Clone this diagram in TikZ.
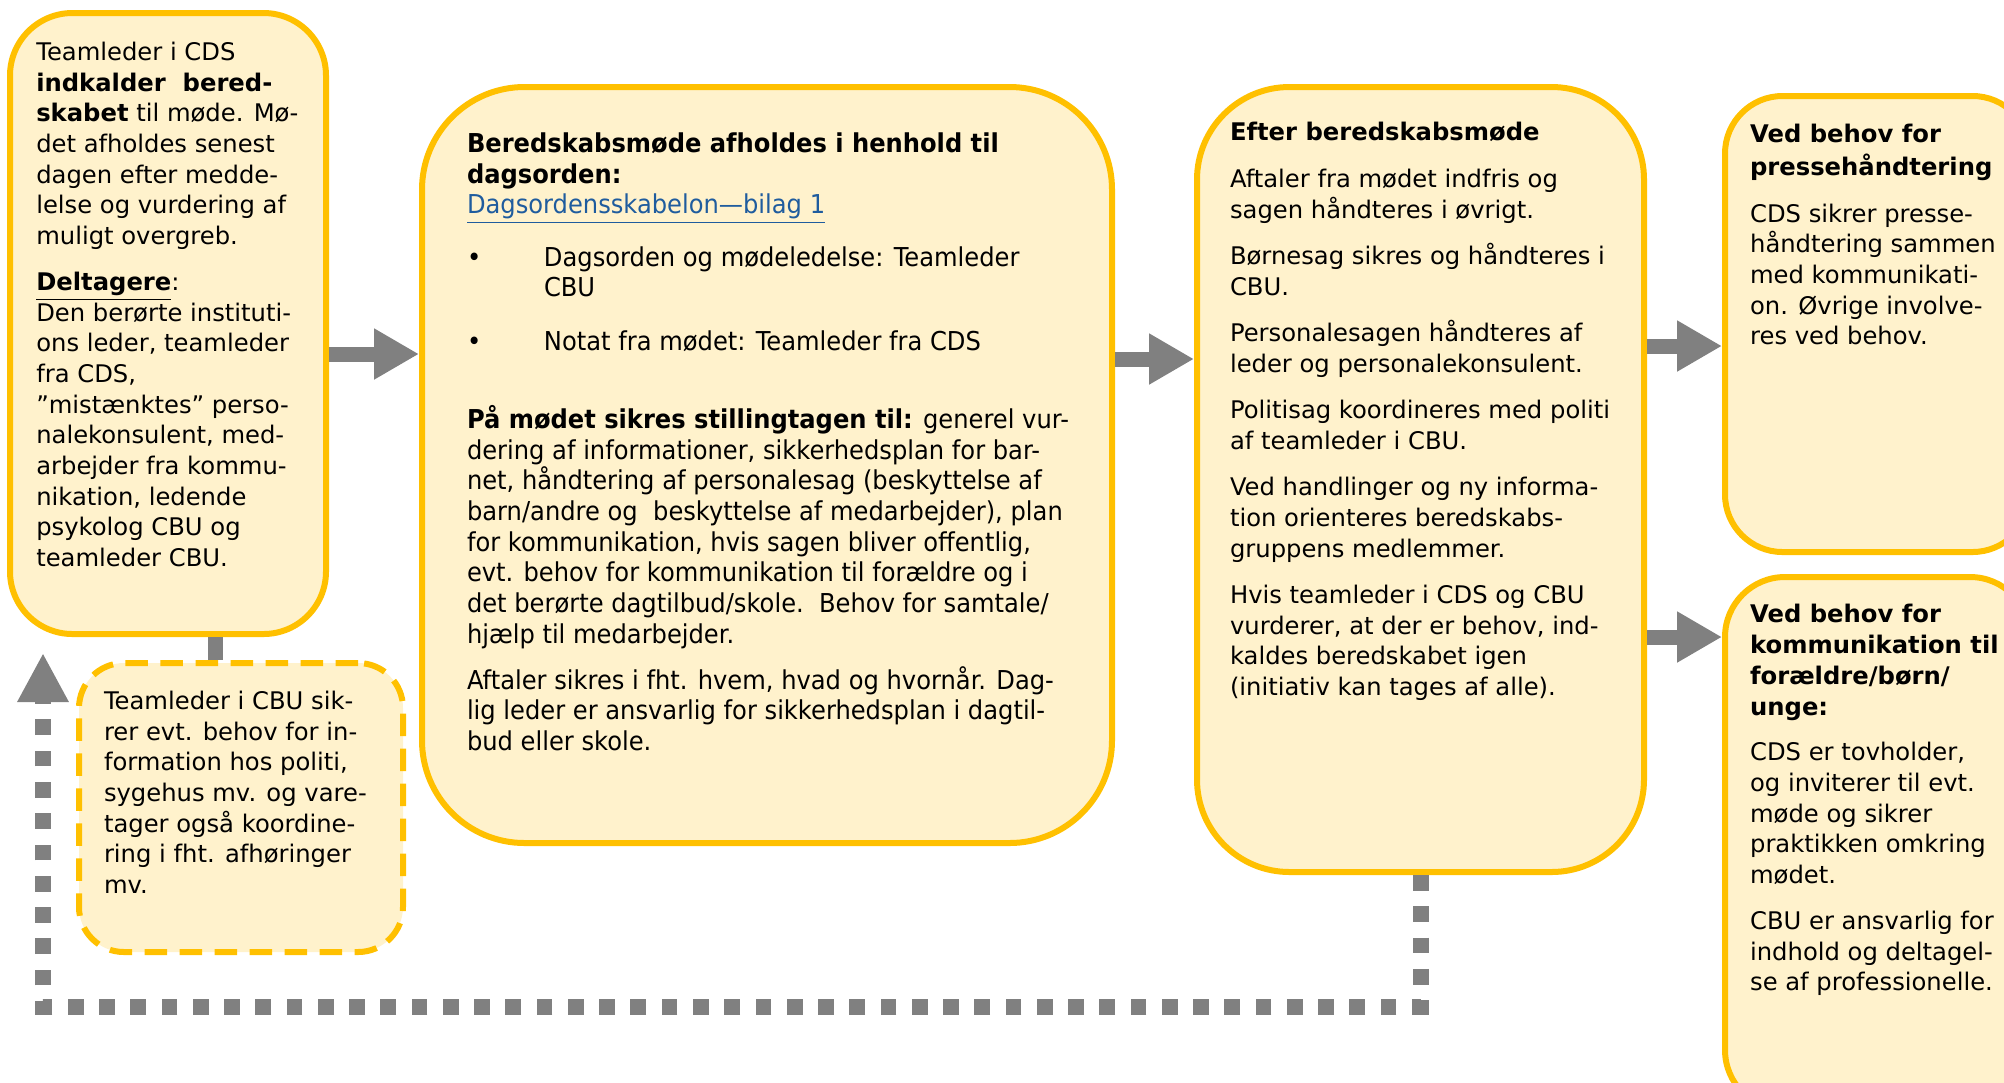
\documentclass[tikz,border=0pt]{standalone}
\usepackage{fontspec}
\setmainfont{DejaVu Sans}
\newfontfamily\condfont{DejaVu Sans}[FakeStretch=0.93]
\usetikzlibrary{arrows.meta,fit}
\definecolor{boxborder}{HTML}{FFC000}
\definecolor{boxfill}{HTML}{FFF2CC}
\definecolor{arrowgray}{HTML}{808080}
\definecolor{linkblue}{HTML}{1F5C9E}
\newcommand\mainsize{\fontsize{9.7pt}{12.27pt}\selectfont}
\newcommand\condsize{\condfont\fontsize{10.4pt}{12.27pt}\selectfont}
\begin{document}
\begin{tikzpicture}[x=0.4pt,y=-0.4pt,
  box/.style={draw=boxborder,fill=boxfill,line width=2.4pt,inner sep=0pt},
  dashbox/.style={box,dash pattern=on 9pt off 5pt},
  txt/.style={anchor=north west,inner sep=0pt,align=left,font=\mainsize},
  blockarrow/.style={draw=arrowgray,line width=6pt,-{Triangle[length=18pt,width=19.2pt]}},
  stub/.style={draw=arrowgray,line width=6pt},
  fbline/.style={draw=arrowgray,line width=6.4pt,dash pattern=on 6.3pt off 6.2pt,-{Triangle[length=19.6pt,width=19.2pt]}}]
\useasboundingbox (0,0) rectangle (2004,1082);
% boxes
\node[box,rounded corners=25pt,fit={(10,13) (326,634)}] (b1) {};
\node[dashbox,rounded corners=18pt,fit={(79,663) (403,952)}] (b2) {};
\node[box,rounded corners=41pt,fit={(422,87) (1112,843)}] (b3) {};
\node[box,rounded corners=37pt,fit={(1197,87) (1644,872)}] (b4) {};
\node[box,rounded corners=23pt,fit={(1725,96) (2030,552)}] (b5) {};
\node[box,rounded corners=24pt,fit={(1725,577) (2030,1110)}] (b6) {};
% texts
\node[txt] (t1) at (35.8,38.5) {\strut Teamleder i CDS\\
\textbf{indkalder\ \ bered-}\\
\textbf{skabet} til møde. Mø-\\
det afholdes senest\\
dagen efter medde-\\
lelse og vurdering af\\
muligt overgreb.\\[6.1pt]
\textbf{\underline{Deltagere}}:\\
Den berørte instituti-\\
ons leder, teamleder\\
fra CDS,\\
”mistænktes” perso-\\
nalekonsulent, med-\\
arbejder fra kommu-\\
nikation, ledende\\
psykolog CBU og\\
teamleder CBU.};
\node[txt] (t2) at (103.5,687.5) {\strut Teamleder i CBU sik-\\
rer evt. behov for in-\\
formation hos politi,\\
sygehus mv. og vare-\\
tager også koordine-\\
ring i fht. afhøringer\\
mv.};
\node[txt,font=\condsize] (t3) at (466.5,130.5) {\strut\textbf{Beredskabsmøde afholdes i henhold til}\\
\textbf{dagsorden:}\\
\textcolor{linkblue}{\underline{Dagsordensskabelon—bilag 1}}\\[8.7pt]
\makebox[30.8pt][l]{•}Dagsorden og mødeledelse: Teamleder\\
\hspace*{30.8pt}CBU\\[9.2pt]
\makebox[30.8pt][l]{•}Notat fra mødet: Teamleder fra CDS\\[18.9pt]
\textbf{På mødet sikres stillingtagen til:} generel vur-\\
dering af informationer, sikkerhedsplan for bar-\\
net, håndtering af personalesag (beskyttelse af\\
barn/andre og\ \ beskyttelse af medarbejder), plan\\
for kommunikation, hvis sagen bliver offentlig,\\
evt. behov for kommunikation til forældre og i\\
det berørte dagtilbud/skole.\ \ Behov for samtale/\\
hjælp til medarbejder.\\[6.1pt]
Aftaler sikres i fht. hvem, hvad og hvornår. Dag-\\
lig leder er ansvarlig for sikkerhedsplan i dagtil-\\
bud eller skole.};
\node[txt] (t4) at (1229.5,119) {\strut\textbf{Efter beredskabsmøde}\\[6.3pt]
Aftaler fra mødet indfris og\\
sagen håndteres i øvrigt.\\[6.3pt]
Børnesag sikres og håndteres i\\
CBU.\\[6.3pt]
Personalesagen håndteres af\\
leder og personalekonsulent.\\[6.3pt]
Politisag koordineres med politi\\
af teamleder i CBU.\\[6.3pt]
Ved handlinger og ny informa-\\
tion orienteres beredskabs-\\
gruppens medlemmer.\\[6.3pt]
Hvis teamleder i CDS og CBU\\
vurderer, at der er behov, ind-\\
kaldes beredskabet igen\\
(initiativ kan tages af alle).};
\node[txt] (t5) at (1749.6,120.5) {\strut\textbf{Ved behov for}\\
\textbf{pressehåndtering}\\[6.3pt]
CDS sikrer presse-\\
håndtering sammen\\
med kommunikati-\\
on. Øvrige involve-\\
res ved behov.};
\node[txt] (t6) at (1749.6,601) {\strut\textbf{Ved behov for}\\
\textbf{kommunikation til}\\
\textbf{forældre/børn/}\\
\textbf{unge:}\\[6.1pt]
CDS er tovholder,\\
og inviterer til evt.\\
møde og sikrer\\
praktikken omkring\\
mødet.\\[6.1pt]
CBU er ansvarlig for\\
indhold og deltagel-\\
se af professionelle.};
% helper coordinates
\coordinate (ya1) at (0,354);
\coordinate (ya2) at (0,359);
\coordinate (ya3) at (0,346);
\coordinate (ya4) at (0,637);
\coordinate (stubx) at (215,0);
\coordinate (fbl) at (43,1007);
\coordinate (fbt) at (43,653);
% connectors
\draw[blockarrow] (b1.east |- ya1) -- (b3.west |- ya1);
\draw[blockarrow] (b3.east |- ya2) -- (b4.west |- ya2);
\draw[blockarrow] (b4.east |- ya3) -- (b5.west |- ya3);
\draw[blockarrow] (b4.east |- ya4) -- (b6.west |- ya4);
\draw[stub] (b1.south -| stubx) -- (b2.north -| stubx);
\draw[fbline] (b4.south) -- (b4.south |- fbl) -- (fbl) -- (fbt);
\end{tikzpicture}
\end{document}
